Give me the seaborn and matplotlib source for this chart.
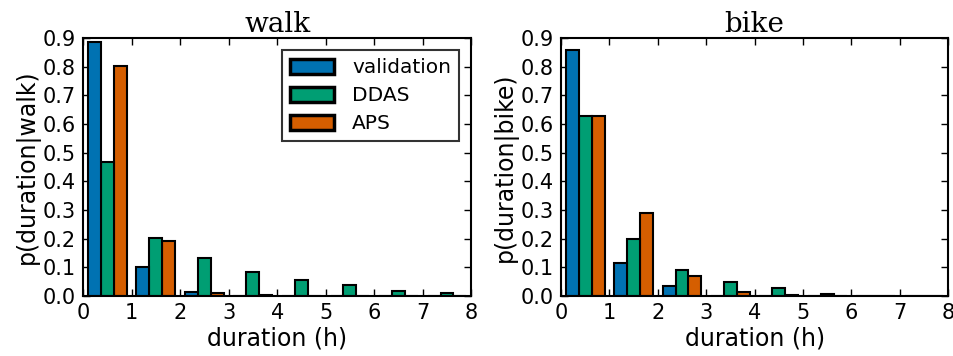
"""Duration histograms per travel mode: validation vs DDAS vs APS."""

import matplotlib

matplotlib.use("Agg")
import matplotlib.pyplot as plt
import numpy as np
import pandas as pd
import seaborn as sns
from matplotlib.patches import Patch

# bin edges in hours
BIN_EDGES = [0, 1, 2, 3, 4, 5, 6, 7, 8]
SOURCES = ["validation", "DDAS", "APS"]
COLORS = {"validation": "#0072B2", "DDAS": "#009E73", "APS": "#D55E00"}

# p(duration | walk) per 1-hour bin
walk_validation = [0.888, 0.101, 0.012, 0.0, 0.0, 0.0, 0.0, 0.0]
walk_ddas = [0.467, 0.202, 0.132, 0.084, 0.057, 0.037, 0.016, 0.009]
walk_aps = [0.802, 0.190, 0.010, 0.002, 0.001, 0.001, 0.001, 0.001]

# p(duration | bike) per 1-hour bin
bike_validation = [0.857, 0.113, 0.034, 0.0, 0.0, 0.0, 0.0, 0.0]
bike_ddas = [0.629, 0.200, 0.090, 0.049, 0.029, 0.005, 0.001, 0.0]
bike_aps = [0.629, 0.289, 0.070, 0.012, 0.003, 0.0, 0.0, 0.0]

PANELS = [
    ("walk", [walk_validation, walk_ddas, walk_aps]),
    ("bike", [bike_validation, bike_ddas, bike_aps]),
]


def to_frame(series):
    centers = (np.array(BIN_EDGES[:-1]) + np.array(BIN_EDGES[1:])) / 2.0
    rows = []
    for name, vals in zip(SOURCES, series):
        for c, v in zip(centers, vals):
            rows.append({"duration": c, "p": v, "source": name})
    return pd.DataFrame(rows)


sns.set_theme(style="ticks")
plt.rcParams.update({
    "font.family": ["DejaVu Sans"],
    "text.color": "black",
    "axes.labelcolor": "black",
    "xtick.direction": "in",
    "ytick.direction": "in",
    "xtick.top": True,
    "ytick.right": True,
    "xtick.major.size": 5,
    "ytick.major.size": 5,
    "xtick.color": "black",
    "ytick.color": "black",
    "axes.edgecolor": "black",
    "axes.linewidth": 1.5,
    "xtick.labelsize": 15,
    "ytick.labelsize": 15,
})

fig = plt.figure(figsize=(9.54, 3.56), dpi=100)
axes = [
    fig.add_axes([0.087, 0.169, 0.407, 0.724]),
    fig.add_axes([0.588, 0.169, 0.406, 0.724]),
]

for ax, (mode, series) in zip(axes, PANELS):
    df = to_frame(series)
    sns.histplot(
        data=df,
        x="duration",
        weights="p",
        hue="source",
        hue_order=SOURCES,
        palette=COLORS,
        bins=BIN_EDGES,
        multiple="dodge",
        shrink=0.8,
        edgecolor="black",
        linewidth=1.5,
        alpha=1.0,
        legend=False,
        ax=ax,
    )
    ax.set_xlim(0, 8)
    ax.set_ylim(0, 0.9)
    ax.set_xticks(range(0, 9))
    ax.set_yticks(np.arange(0, 0.91, 0.1))
    ax.set_yticklabels([f"{t:.1f}" for t in np.arange(0, 0.91, 0.1)])
    ax.set_xlabel("duration (h)", fontsize=17, labelpad=3)
    ax.set_ylabel(f"p(duration|{mode})", fontsize=17, labelpad=2)
    ax.set_title(mode, fontsize=20, family="DejaVu Serif", pad=4, color="black")
    ax.tick_params(axis="both", pad=5, width=1.0)

handles = [Patch(facecolor=COLORS[s], edgecolor="black", linewidth=2.5, label=s)
           for s in SOURCES]
leg = axes[0].legend(handles=handles, loc="upper right", fontsize=14.5,
                     frameon=True, fancybox=False, borderaxespad=0.6,
                     handlelength=2.2, handleheight=0.8, handletextpad=0.9,
                     labelspacing=0.45, borderpad=0.4)
leg.get_frame().set_edgecolor("black")
leg.get_frame().set_linewidth(1.5)

fig.savefig("out.png", dpi=100)
plt.close(fig)
